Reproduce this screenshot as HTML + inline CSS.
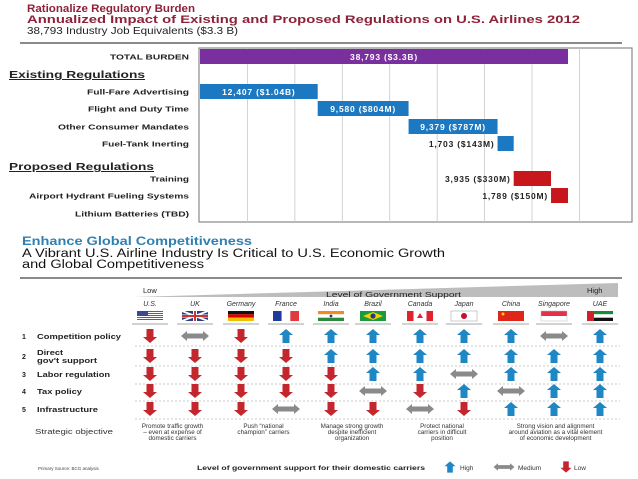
<!DOCTYPE html>
<html><head><meta charset="utf-8"><style>
html,body{margin:0;padding:0;background:#fff;}
svg{display:block;font-family:"Liberation Sans",Arial,sans-serif;}
</style></head><body>
<svg id="s" width="638" height="479" viewBox="0 0 638 479" xmlns="http://www.w3.org/2000/svg">
<text x="27" y="12" font-size="11" font-weight="bold" fill="#8e2238" textLength="168" lengthAdjust="spacingAndGlyphs">Rationalize Regulatory Burden</text>
<text x="27" y="23" font-size="11" font-weight="bold" fill="#8e2238" textLength="553" lengthAdjust="spacingAndGlyphs">Annualized Impact of Existing and Proposed Regulations on U.S. Airlines 2012</text>
<text x="27" y="34" font-size="10.5" fill="#222" textLength="211" lengthAdjust="spacingAndGlyphs">38,793 Industry Job Equivalents ($3.3 B)</text>
<line x1="20" y1="43" x2="622" y2="43" stroke="#444" stroke-width="1.2"/>
<rect x="199" y="48" width="433" height="174" fill="none" stroke="#888" stroke-width="1.2"/>
<g id="wf"></g>
<text x="9" y="78" font-size="10" font-weight="bold" fill="#222" text-decoration="underline" textLength="136" lengthAdjust="spacingAndGlyphs">Existing Regulations</text>
<text x="9" y="170" font-size="10" font-weight="bold" fill="#222" text-decoration="underline" textLength="145" lengthAdjust="spacingAndGlyphs">Proposed Regulations</text>
<text x="22" y="245" font-size="11.5" font-weight="bold" fill="#2f7fb0" textLength="230" lengthAdjust="spacingAndGlyphs">Enhance Global Competitiveness</text>
<text x="22" y="257" font-size="11.5" fill="#111" textLength="423" lengthAdjust="spacingAndGlyphs">A Vibrant U.S. Airline Industry Is Critical to U.S. Economic Growth</text>
<text x="22" y="268" font-size="11.5" fill="#111" textLength="182" lengthAdjust="spacingAndGlyphs">and Global Competitiveness</text>
<line x1="20" y1="278" x2="622" y2="278" stroke="#444" stroke-width="1.2"/>
<polygon points="134,297 618,283 618,297" fill="#bdbdbd"/>
<text x="143" y="293" font-size="7.5" fill="#222">Low</text>
<text x="587" y="293" font-size="7.5" fill="#222">High</text>
<text x="326" y="297" font-size="7.5" fill="#222" textLength="135" lengthAdjust="spacingAndGlyphs">Level of Government Support</text>
<g id="grid"></g>
<text x="35" y="434" font-size="7" fill="#333" textLength="78" lengthAdjust="spacingAndGlyphs">Strategic objective</text>
<text x="38" y="470" font-size="4.5" fill="#444">Primary Source: BCG analysis</text>
<text x="197" y="470" font-size="6.5" font-weight="bold" fill="#222" textLength="228" lengthAdjust="spacingAndGlyphs">Level of government support for their domestic carriers</text>
<g id="legend"></g>
</svg>
<script>
const wfLabels=["TOTAL BURDEN","Full-Fare Advertising","Flight and Duty Time","Other Consumer Mandates","Fuel-Tank Inerting","Training","Airport Hydrant Fueling Systems","Lithium Batteries (TBD)"];
const wfValues=[38793,12407,9580,9379,1703,3935,1789,0];
const wfText=["38,793 ($3.3B)","12,407 ($1.04B)","9,580 ($804M)","9,379 ($787M)","1,703 ($143M)","3,935 ($330M)","1,789 ($150M)",""];
const wfKind=["total","existing","existing","existing","existing","proposed","proposed","proposed"];
const gridTicks=[5000,10000,15000,20000,25000,30000,35000,40000];

const countries=["U.S.","UK","Germany","France","India","Brazil","Canada","Japan","China","Singapore","UAE"];
const policies=["Competition policy","Direct|gov't support","Labor regulation","Tax policy","Infrastructure"];
const levels=[
 ["L","M","L","H","H","H","H","H","H","M","H"],
 ["L","L","L","L","H","H","H","H","H","H","H"],
 ["L","L","L","L","L","H","H","M","H","H","H"],
 ["L","L","L","L","L","M","L","H","M","H","H"],
 ["L","L","L","M","L","L","M","L","H","H","H"]];
const objectives=[["Promote traffic growth","– even at expense of","domestic carriers"],["Push \u201cnational","champion\u201d carriers"],["Manage strong growth","despite inefficient","organization"],["Protect national","carriers in difficult","position"],["Strong vision and alignment","around aviation as a vital element","of economic development"]];
const objectiveSpan=[[0,1],[2,3],[4,5],[6,7],[8,10]];

const NS="http://www.w3.org/2000/svg";
function mk(tag,attrs,parent){const e=document.createElementNS(NS,tag);for(const k in attrs)e.setAttribute(k,attrs[k]);parent.appendChild(e);return e;}
const x0=200,pxPer=368/38793;
const X=v=>x0+v*pxPer;
const rowY=[57,92,109,127,144,179,196,214];
const labelW=[79,102,101,131,87,39,160,114];
const wf=document.getElementById('wf');
gridTicks.forEach((t,i)=>{const l=mk('line',{x1:X(t),x2:X(t),y1:48,y2:222,stroke:'#c8c8c8','stroke-width':0.8},wf);

});
let cum=0;
const cols={total:"#7a2f9e",existing:"#1c78c0",proposed:"#c8161d"};
wfLabels.forEach((lab,i)=>{
 const y=rowY[i];
 const t=mk('text',{x:189-labelW[i],y:y+2.5,'font-size':7,'font-weight':'bold',fill:'#222',textLength:labelW[i],lengthAdjust:'spacingAndGlyphs'},wf);t.textContent=lab;
 
 
 const v=wfValues[i];if(!v)return;
 const start=wfKind[i]==="total"?0:cum;
 if(wfKind[i]!=="total")cum+=v;
 const xa=X(start),w=X(start+v)-xa;
 const r=mk('rect',{x:xa,y:y-8,width:w,height:15,fill:cols[wfKind[i]]},wf);
 
 
 const inside=w>80;
 const lt=mk('text',{x:inside?xa+w/2:xa-3,y:y+3,'font-size':8.5,'font-weight':'bold','letter-spacing':0.8,'text-anchor':inside?'middle':'end',fill:inside?'#fff':'#222'},wf);
 lt.textContent=wfText[i];
 
 
});

const g=document.getElementById('grid');
const colX=[150,195,241,286,331,373,420,464,511,554,600];
const prowY=[336,356,374,391,409];
function arrow(kind,cx,cy,parent,s){
 s=s||1;let p,c;
 if(kind==="H"){c="#1f87c4";p=[[0,-7],[7,-1],[3.5,-1],[3.5,7],[-3.5,7],[-3.5,-1],[-7,-1]];}
 else if(kind==="L"){c="#c3272d";p=[[0,7],[7,1],[3.5,1],[3.5,-7],[-3.5,-7],[-3.5,1],[-7,1]];}
 else{c="#8a8a8a";p=[[-14,0],[-8,-5],[-8,-2.5],[8,-2.5],[8,-5],[14,0],[8,5],[8,2.5],[-8,2.5],[-8,5]];}
 return mk('polygon',{points:p.map(q=>(cx+q[0]*s)+","+(cy+q[1]*s)).join(" "),fill:c},parent);
}
function flag(i,cx,y,parent){
 const fg=mk('g',{},parent);const x=cx-13,w=26,h=10;
 const R=(a,b,c,d,f)=>mk('rect',{x:a,y:b,width:c,height:d,fill:f},fg);
 switch(i){
 case 0:for(let k=0;k<5;k++)R(x,y+k*2,w,1,"#c33");for(let k=0;k<5;k++)R(x,y+k*2+1,w,1,"#fff");R(x,y,11,5,"#3b4a8c");break;
 case 1:R(x,y,w,h,"#2b3f86");mk('path',{d:`M${x} ${y}L${x+w} ${y+h}M${x+w} ${y}L${x} ${y+h}`,stroke:"#fff","stroke-width":2},fg);R(x+11,y,4,h,"#fff");R(x,y+3.5,w,3,"#fff");R(x+12,y,2,h,"#c33");R(x,y+4,w,2,"#c33");break;
 case 2:R(x,y,w,3.3,"#111");R(x,y+3.3,w,3.4,"#d00");R(x,y+6.7,w,3.3,"#f0c000");break;
 case 3:R(x,y,8.7,h,"#1f3c9b");R(x+8.7,y,8.6,h,"#fff");R(x+17.3,y,8.7,h,"#e03a3e");break;
 case 4:R(x,y,w,3.3,"#f08a24");R(x,y+3.3,w,3.4,"#fff");R(x,y+6.7,w,3.3,"#2a8a3a");mk('circle',{cx:cx,cy:y+5,r:1.4,fill:"#1a3a8a"},fg);break;
 case 5:R(x,y,w,h,"#1a9a3a");mk('polygon',{points:`${cx-10},${y+5} ${cx},${y+1} ${cx+10},${y+5} ${cx},${y+9}`,fill:"#f5d000"},fg);mk('circle',{cx:cx,cy:y+5,r:2.6,fill:"#1f3c8b"},fg);break;
 case 6:R(x,y,w,h,"#fff");R(x,y,6.5,h,"#e0232d");R(x+19.5,y,6.5,h,"#e0232d");mk('polygon',{points:`${cx},${y+2} ${cx+3},${y+7} ${cx-3},${y+7}`,fill:"#e0232d"},fg);break;
 case 7:R(x,y,w,h,"#fff");mk('rect',{x:x,y:y,width:w,height:h,fill:"none",stroke:"#999","stroke-width":0.5},fg);mk('circle',{cx:cx,cy:y+5,r:3,fill:"#c8102e"},fg);break;
 case 8:R(x,y,w,h,"#e0251b");mk('circle',{cx:x+5,cy:y+3,r:1.5,fill:"#ffd000"},fg);break;
 case 9:R(x,y,w,5,"#e5304a");R(x,y+5,w,5,"#fff");mk('rect',{x:x,y:y,width:w,height:h,fill:"none",stroke:"#bbb","stroke-width":0.5},fg);break;
 case 10:R(x,y,w,3.3,"#1a8a3a");R(x,y+3.3,w,3.4,"#fff");R(x,y+6.7,w,3.3,"#111");R(x,y,7,h,"#d0202a");break;
 }
 return fg;
}
countries.forEach((c,i)=>{
 const t=mk('text',{x:colX[i],y:306,'font-size':7,'font-style':'italic','text-anchor':'middle',fill:'#333'},g);t.textContent=c;
 
 
 const f=flag(i,colX[i],311,g);
 
 
 const u=mk('line',{x1:colX[i]-18,x2:colX[i]+18,y1:324,y2:324,stroke:'#888','stroke-width':0.8},g);
 
 
});
const polW=[[84],[26,60],[73],[45],[61]];
policies.forEach((p,r)=>{
 const y=prowY[r];
 const n=mk('text',{x:22,y:y+3,'font-size':7,'font-weight':'bold',fill:'#222'},g);n.textContent=String(r+1);
 
 
 const parts=p.split("|");
 parts.forEach((pt,k)=>{const t=mk('text',{x:37,y:y+3+(parts.length>1?(k*8-4):0),'font-size':parts.length>1?7:7.5,'font-weight':'bold',fill:'#222',textLength:polW[r][k],lengthAdjust:'spacingAndGlyphs'},g);t.textContent=pt;
 
 });
 const d=mk('line',{x1:135,x2:620,y1:y+10,y2:y+10,stroke:'#bbb','stroke-width':0.8,'stroke-dasharray':'2,2'},g);
 
 
 levels[r].forEach((lv,i)=>{const a=arrow(lv,colX[i],y,g);
 
 });
});
objectives.forEach((lines,k)=>{
 const cx=(colX[objectiveSpan[k][0]]+colX[objectiveSpan[k][1]])/2;
 lines.forEach((ln,j)=>{const t=mk('text',{x:cx,y:428+j*6,'font-size':6.3,'text-anchor':'middle',fill:'#333'},g);t.textContent=ln;
 
 });
});
const lg=document.getElementById('legend');
const legKinds=["H","M","L"],legNames=["High","Medium","Low"],legX=[450,504,566],legTX=[460,518,574];
legKinds.forEach((k,i)=>{
 const a=arrow(k,legX[i],467,lg,k==="M"?0.75:0.8);
 
 
 const t=mk('text',{x:legTX[i],y:470,'font-size':6.5,fill:'#333'},lg);t.textContent=legNames[i];
 
 
});
</script>
</body></html>
